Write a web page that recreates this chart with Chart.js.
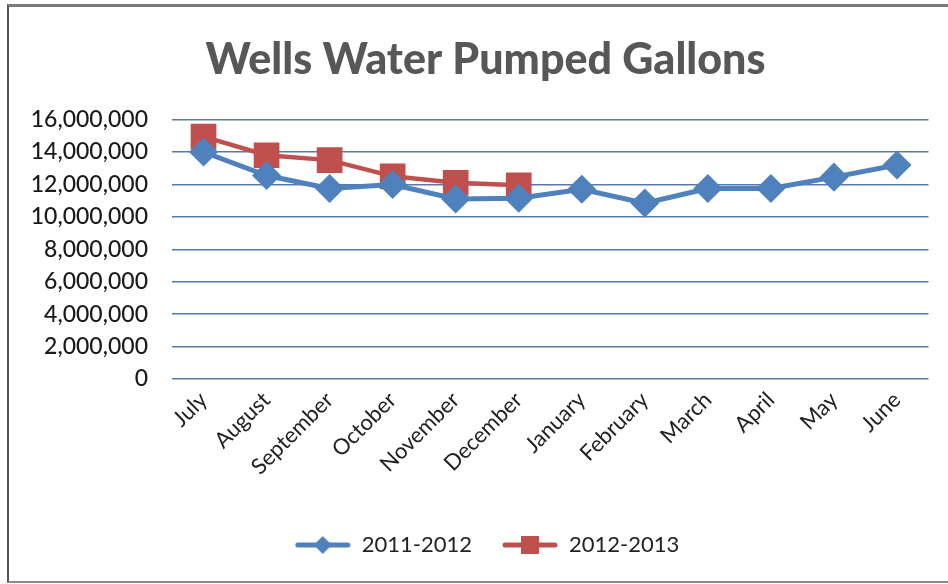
<!DOCTYPE html>
<html>
<head>
<meta charset="utf-8">
<script src="https://cdn.jsdelivr.net/npm/chart.js@4"></script>
<style>
  html, body { margin: 0; padding: 0; background: #fff; }
  #wrap { position: relative; width: 948px; height: 584px; overflow: hidden; }
  #frame {
    position: absolute; left: 7px; top: 4px; width: 960px; height: 574px;
    border-left: 2px solid #555; border-top: 3px solid #7a7a7a; border-bottom: 2px solid #8a8a8a;
  }
  #chart { position: absolute; left: 0; top: 0; }
</style>
</head>
<body>
<div id="wrap">
  <div id="frame"></div>
  <canvas id="chart" width="948" height="584"></canvas>
</div>
<script>
const months = ['July', 'August', 'September', 'October', 'November', 'December',
  'January', 'February', 'March', 'April', 'May', 'June'];
const gallons2011 = [14000000, 12550000, 11750000, 12000000, 11100000, 11150000,
  11700000, 10850000, 11750000, 11750000, 12450000, 13200000];
const gallons2012 = [14950000, 13800000, 13500000, 12500000, 12100000, 11950000,
  null, null, null, null, null, null];
const seriesNames = ['2011-2012', '2012-2013'];

const BLUE = '#4F81BD';
const RED = '#C0504D';
const FONT = 'Lato, "Open Sans", sans-serif';

// legend marker: short line with the series marker on top
function legendMarker(color, shape) {
  const c = document.createElement('canvas');
  c.width = 56; c.height = 24;
  const g = c.getContext('2d');
  g.strokeStyle = color;
  g.lineWidth = 5;
  g.lineCap = 'round';
  g.beginPath(); g.moveTo(3, 12); g.lineTo(53, 12); g.stroke();
  g.fillStyle = color;
  g.beginPath();
  if (shape === 'diamond') {
    g.moveTo(28, 3); g.lineTo(37, 12); g.lineTo(28, 21); g.lineTo(19, 12);
  } else {
    g.rect(19, 3, 18, 18);
  }
  g.closePath(); g.fill();
  return c;
}
const markers = [legendMarker(BLUE, 'diamond'), legendMarker(RED, 'square')];

// title and legend in the original sit a little right of the canvas centre
const shiftBlocks = {
  id: 'shiftBlocks',
  afterLayout(chart) {
    chart.legend.left += 41;
    chart.titleBlock.left += 38;
  },
};

const ctx = document.getElementById('chart').getContext('2d');
new Chart(ctx, {
  type: 'line',
  data: {
    labels: months,
    datasets: [
      {
        label: seriesNames[0],
        data: gallons2011,
        borderColor: BLUE,
        backgroundColor: BLUE,
        borderWidth: 5,
        pointStyle: 'rectRot',
        pointRadius: 11,
        pointHoverRadius: 11,
        tension: 0,
      },
      {
        label: seriesNames[1],
        data: gallons2012,
        borderColor: RED,
        backgroundColor: RED,
        borderWidth: 4.5,
        pointStyle: 'rect',
        pointRadius: 15,
        pointHoverRadius: 15,
        tension: 0,
      },
    ],
  },
  plugins: [shiftBlocks],
  options: {
    responsive: false,
    animation: false,
    layout: { padding: { left: 0, right: 15, top: 0, bottom: 18 } },
    plugins: {
      title: {
        display: true,
        text: 'Wells Water Pumped Gallons',
        color: '#575757',
        font: { family: FONT, size: 43, weight: 900 },
        padding: { top: 34, bottom: 34 },
      },
      legend: {
        position: 'bottom',
        labels: {
          usePointStyle: true,
          pointStyleWidth: 56,
          color: '#222',
          font: { family: FONT, size: 22 },
          padding: 30,
          generateLabels: (chart) => chart.data.datasets.map((ds, i) => ({
            text: ds.label,
            pointStyle: markers[i],
            fillStyle: ds.borderColor,
            strokeStyle: ds.borderColor,
            lineWidth: 0,
            fontColor: '#222',
            datasetIndex: i,
            hidden: false,
          })),
        },
      },
      tooltip: { enabled: false },
    },
    scales: {
      x: {
        offset: true,
        grid: { display: false, drawTicks: false },
        border: { display: false },
        ticks: {
          color: '#222',
          font: { family: FONT, size: 22 },
          minRotation: 45,
          maxRotation: 45,
          autoSkip: false,
          padding: 8,
        },
        afterFit: (scale) => { scale.height = 125; },
      },
      y: {
        min: 0,
        max: 16000000,
        grid: { color: '#5a78ad', lineWidth: 1.5, drawTicks: false },
        border: { display: false },
        ticks: {
          stepSize: 2000000,
          color: '#1a1a1a',
          font: { family: FONT, size: 23, weight: 500 },
          padding: 24,
          callback: (v) => v.toLocaleString('en-US'),
        },
        afterFit: (scale) => { scale.width = 172; },
      },
    },
  },
});
</script>
</body>
</html>
